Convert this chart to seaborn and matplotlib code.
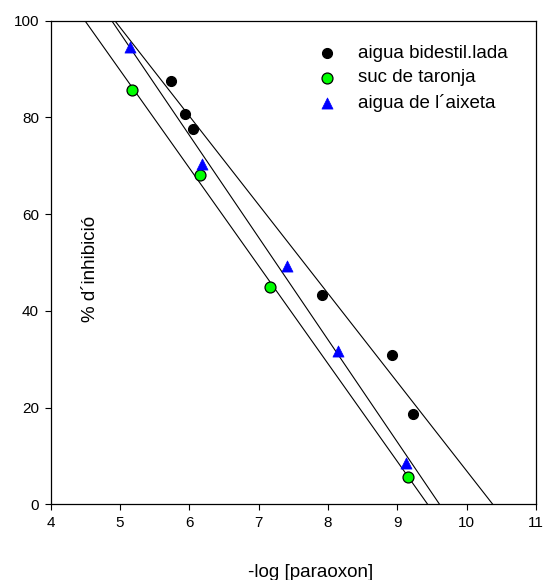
import matplotlib
matplotlib.use("Agg")
import matplotlib.pyplot as plt
import seaborn as sns
import pandas as pd

# Inhibition (%) versus -log[paraoxon] for three water matrices
bidest_x = [5.74, 5.94, 6.05, 7.92, 8.92, 9.23]
bidest_y = [87.6, 80.7, 77.6, 43.3, 30.8, 18.6]

taronja_x = [5.17, 6.15, 7.17, 9.16]
taronja_y = [85.6, 68.1, 44.9, 5.7]

aixeta_x = [5.15, 6.18, 7.41, 8.15, 9.12]
aixeta_y = [94.5, 70.3, 49.3, 31.8, 8.6]

labels = ["aigua bidestil.lada", "suc de taronja", "aigua de l\u00b4aixeta"]
x_ticks = [4, 5, 6, 7, 8, 9, 10, 11]
y_ticks = [0, 20, 40, 60, 80, 100]

df = pd.concat([
    pd.DataFrame({"x": bidest_x, "y": bidest_y, "mostra": labels[0]}),
    pd.DataFrame({"x": taronja_x, "y": taronja_y, "mostra": labels[1]}),
    pd.DataFrame({"x": aixeta_x, "y": aixeta_y, "mostra": labels[2]}),
], ignore_index=True)

sns.set_style("ticks")
plt.rcParams["font.family"] = ["Liberation Sans", "DejaVu Sans"]
plt.rcParams["text.color"] = "black"
plt.rcParams["axes.labelcolor"] = "black"
plt.rcParams["xtick.color"] = "black"
plt.rcParams["ytick.color"] = "black"

fig = plt.figure(figsize=(5.45, 5.8), dpi=100)
ax = fig.add_axes([0.093, 0.1305, 0.8905, 0.8338])
ax.set_xlim(4, 11)
ax.set_ylim(0, 100)

styles = {
    labels[0]: dict(marker="o", s=52, color="black", edgecolors="black", linewidths=0.8),
    labels[1]: dict(marker="o", s=62, color="#00ff00", edgecolors="black", linewidths=0.9),
    labels[2]: dict(marker="^", s=64, color="#0000ff", edgecolors="#0000ff", linewidths=0.5),
}

# Each series: scatter plus its least-squares line, extended across the x range
for name in labels:
    sub = df[df["mostra"] == name]
    st = styles[name]
    sns.regplot(data=sub, x="x", y="y", ax=ax, ci=None, truncate=False,
                marker=st["marker"], label=name,
                scatter_kws=dict(s=st["s"], color=st["color"],
                                 edgecolors=st["edgecolors"],
                                 linewidths=st["linewidths"], alpha=1, zorder=3),
                line_kws=dict(color="black", lw=0.8, zorder=2))

ax.set_xlim(4, 11)
ax.set_ylim(0, 100)
ax.set_xticks(x_ticks)
ax.set_yticks(y_ticks)
ax.tick_params(direction="out", length=4.5, width=0.8, labelsize=11,
               colors="black", pad=4)
for sp in ax.spines.values():
    sp.set_visible(True)
    sp.set_color("black")
    sp.set_linewidth(0.9)

ax.set_xlabel("-log [paraoxon]", fontsize=13.5, color="black")
ax.set_ylabel("% d\u00b4inhibici\u00f3", fontsize=13.5, color="black")
ax.xaxis.set_label_coords(0.536, -0.123)
ax.yaxis.set_label_coords(0.1, 0.4866)

leg = ax.legend(loc="upper left", bbox_to_anchor=(0.534, 0.9655), frameon=False,
                fontsize=13.5, handletextpad=1.19, labelspacing=0.39,
                handlelength=1.0, borderaxespad=0, borderpad=0.4)
for t in leg.get_texts():
    t.set_color("black")

fig.savefig("out.png", dpi=100)
